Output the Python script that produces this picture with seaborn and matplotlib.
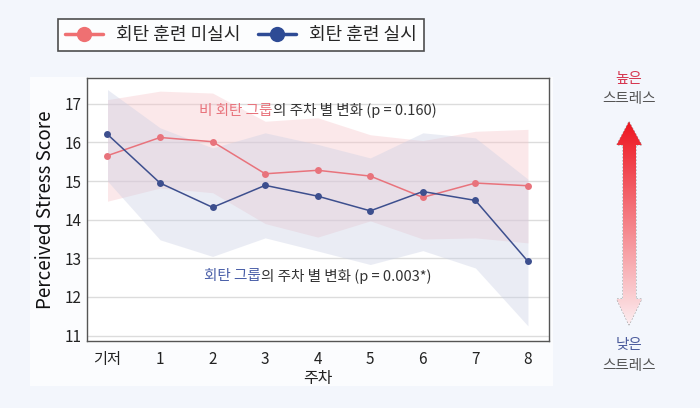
import numpy as np
import pandas as pd
import matplotlib
matplotlib.use("Agg")
import matplotlib.pyplot as plt
import seaborn as sns
from matplotlib.patches import Polygon, Rectangle
from matplotlib.lines import Line2D

# ---------------- data ----------------
week_labels = ["기저", "1", "2", "3", "4", "5", "6", "7", "8"]
weeks = list(range(9))
control_mean = [15.66, 16.13, 16.02, 15.19, 15.28, 15.13, 14.58, 14.95, 14.88]
control_upper = [17.11, 17.33, 17.28, 16.55, 16.64, 16.20, 16.05, 16.29, 16.34]
control_lower = [14.48, 14.82, 14.70, 13.90, 13.55, 13.97, 13.50, 13.53, 13.40]
train_mean = [16.21, 14.95, 14.32, 14.89, 14.61, 14.23, 14.73, 14.50, 12.92]
train_upper = [17.37, 16.38, 15.86, 16.25, 15.95, 15.60, 16.25, 16.12, 15.05]
train_lower = [15.00, 13.48, 13.05, 13.53, 13.19, 12.84, 13.20, 12.75, 11.25]
group_names = ["회탄 훈련 미실시", "회탄 훈련 실시"]
ylabel = "Perceived Stress Score"
xlabel = "주차"
y_ticks = [11, 12, 13, 14, 15, 16, 17]

RED = "#e8737c"
BLUE = "#3d4f8e"
RED_LEG = "#ef7072"
BLUE_LEG = "#2e4b95"

df = pd.DataFrame({
    "week": weeks * 2,
    "score": control_mean + train_mean,
    "group": [group_names[0]] * 9 + [group_names[1]] * 9,
})

sns.set_theme(style="white")
plt.rcParams["font.family"] = ["Noto Sans CJK KR", "DejaVu Sans"]

fig = plt.figure(figsize=(7.0, 4.08), dpi=100)
fig.patch.set_facecolor("#f3f6fc")

# card background
card = Rectangle((30 / 700, 1 - 386 / 408), 523 / 700, 309 / 408,
                 transform=fig.transFigure, facecolor="#fbfcfe",
                 edgecolor="none", zorder=-5)
fig.add_artist(card)

ax = fig.add_axes([87 / 700, 1 - 341 / 408, 462 / 700, 263 / 408])
ax.set_zorder(2)
ax.set_facecolor("white")

ax.fill_between(weeks, control_lower, control_upper, color="#f7c3c8", alpha=0.38,
                linewidth=0, zorder=1)
ax.fill_between(weeks, train_lower, train_upper, color="#c9cfe4", alpha=0.38,
                linewidth=0, zorder=1)

sns.lineplot(data=df, x="week", y="score", hue="group",
             palette={group_names[0]: RED, group_names[1]: BLUE},
             marker="o", markersize=5, markeredgewidth=0, linewidth=1.1,
             legend=False, ax=ax, zorder=3)

ax.set_xlim(-0.39, 8.4)
ax.set_ylim(10.86, 17.67)
ax.set_yticks(y_ticks)
ax.set_yticklabels([str(v) for v in y_ticks], fontsize=11, color="#222")
ax.set_xticks(weeks)
ax.set_xticklabels(week_labels, fontsize=11, color="#222")
ax.yaxis.grid(True, color="#dcdcdc", linewidth=1.0)
ax.xaxis.grid(False)
ax.set_axisbelow(True)
for s in ax.spines.values():
    s.set_color("#555555")
    s.set_linewidth(1.0)
ax.tick_params(axis="x", length=3, color="#bbbbbb", pad=4)
ax.tick_params(axis="y", length=0, pad=4)
ax.set_xlabel(xlabel, fontsize=11.5, color="#222", labelpad=2)
ax.set_ylabel(ylabel, fontsize=13.5, color="#111", labelpad=6, fontweight="medium")

# annotation texts (two-colour)
def two_color(x_center_px, y_px, first, rest, c1):
    t1 = fig.text(0, 0, first, fontsize=10.5, color=c1, va="center", ha="left", zorder=5)
    t2 = fig.text(0, 0, rest, fontsize=10.5, color="#333333", va="center", ha="left", zorder=5)
    fig.canvas.draw()
    r = fig.canvas.get_renderer()
    w1 = t1.get_window_extent(r).width
    w2 = t2.get_window_extent(r).width
    tot = w1 + w2
    x0 = x_center_px - tot / 2
    t1.set_position((x0 / 700, 1 - y_px / 408))
    t2.set_position(((x0 + w1) / 700, 1 - y_px / 408))

two_color(318, 111, "비 회탄 그룹", "의 주차 별 변화 (p = 0.160)", "#e8737c")
two_color(318, 276, "회탄 그룹", "의 주차 별 변화 (p = 0.003*)", "#4a5fa8")

# legend
handles = [
    Line2D([0], [0], color=RED_LEG, lw=2.5, marker="o", markersize=11, markeredgewidth=0),
    Line2D([0], [0], color=BLUE_LEG, lw=2.5, marker="o", markersize=11, markeredgewidth=0),
]
leg = fig.legend(handles, group_names, loc="center", bbox_to_anchor=(241 / 700, 1 - 35 / 408),
                 ncol=2, fontsize=13, frameon=True, fancybox=False, edgecolor="#222222",
                 handlelength=2.1, columnspacing=1.0, handletextpad=0.7, borderpad=0.4)
leg.get_frame().set_linewidth(1.2)
leg.get_frame().set_facecolor("white")

# gradient arrow on right
aax = fig.add_axes([612 / 700, 1 - 328 / 408, 34 / 700, 210 / 408])
aax.set_xlim(612, 646)
aax.set_ylim(328, 118)
aax.axis("off")
verts = [(629, 121.7), (641.7, 145), (636, 145), (636, 299), (641.7, 299), (629, 325),
         (616.7, 299), (623, 299), (623, 145), (616.7, 145)]
poly = Polygon(verts, closed=True, facecolor="none", edgecolor="#9a9a9a",
               linestyle=(0, (1.5, 1.5)), linewidth=0.8)
aax.add_patch(poly)
grad = np.linspace(0, 1, 256)[:, None]
top = np.array([0.93, 0.08, 0.12])
bot = np.array([0.99, 0.93, 0.94])
img = top[None, None, :] * (1 - grad[:, :, None]) + bot[None, None, :] * grad[:, :, None]
im = aax.imshow(img, extent=(612, 646, 325, 121.7), aspect="auto", zorder=1)
im.set_clip_path(poly)

fig.text(629 / 700, 1 - 79 / 408, "높은", fontsize=10.5, color="#d6364f", ha="center", va="center")
fig.text(629 / 700, 1 - 99 / 408, "스트레스", fontsize=10.5, color="#555555", ha="center", va="center")
fig.text(629 / 700, 1 - 345 / 408, "낮은", fontsize=10.5, color="#4a5a9c", ha="center", va="center")
fig.text(629 / 700, 1 - 366 / 408, "스트레스", fontsize=10.5, color="#555555", ha="center", va="center")

fig.savefig("out.png", dpi=100, facecolor=fig.get_facecolor())
